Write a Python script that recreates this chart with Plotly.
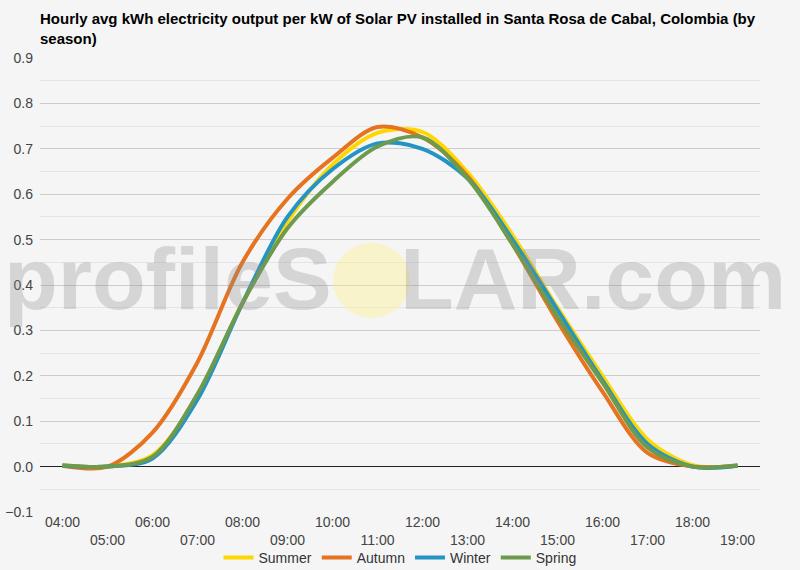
import plotly.graph_objects as go

hours = ["04:00", "05:00", "06:00", "07:00", "08:00", "09:00", "10:00", "11:00",
         "12:00", "13:00", "14:00", "15:00", "16:00", "17:00", "18:00", "19:00"]

summer = [0.003, 0.0, 0.025, 0.155, 0.36, 0.54, 0.665, 0.735, 0.737, 0.648, 0.51, 0.35, 0.2, 0.06, 0.003, 0.002]
autumn = [0.002, 0.0, 0.075, 0.23, 0.45, 0.59, 0.68, 0.748, 0.725, 0.64, 0.49, 0.32, 0.165, 0.03, 0.0, 0.002]
winter = [0.002, 0.0, 0.018, 0.148, 0.36, 0.55, 0.655, 0.712, 0.7, 0.635, 0.5, 0.345, 0.19, 0.05, 0.0, 0.002]
spring = [0.003, 0.0, 0.022, 0.16, 0.36, 0.525, 0.627, 0.705, 0.725, 0.635, 0.49, 0.33, 0.185, 0.042, 0.0, 0.003]

series = [
    ("Summer", summer, "#FFD700"),
    ("Autumn", autumn, "#E5731F"),
    ("Winter", winter, "#2394C4"),
    ("Spring", spring, "#6E9A4E"),
]

title_text = ("<b>Hourly avg kWh electricity output per kW of Solar PV installed in "
              "Santa Rosa de Cabal, Colombia (by<br>season)</b>")

fig = go.Figure()
for name, vals, color in series:
    fig.add_trace(go.Scatter(
        x=hours, y=vals, name=name, mode="lines",
        line=dict(color=color, width=4, shape="spline", smoothing=0.9),
    ))

tick_text = [h if i % 2 == 0 else "<br>" + h for i, h in enumerate(hours)]

fig.update_layout(
    width=800, height=570,
    margin=dict(l=40, r=40, t=58, b=58, autoexpand=False),
    paper_bgcolor="#f5f5f5", plot_bgcolor="#f5f5f5",
    font=dict(family="Liberation Sans, Arial, sans-serif", size=14, color="#444444"),
    title=dict(text=title_text, x=40 / 800, xanchor="left", xref="container",
               y=1 - 24 / 570, yanchor="top",
               font=dict(size=15, color="#000000", family="Liberation Sans, Arial, sans-serif")),
    xaxis=dict(type="category", range=[-0.5, 15.5], tickvals=hours, ticktext=tick_text,
               showgrid=False, zeroline=False, showline=False, ticks="", automargin=False),
    yaxis=dict(range=[-0.1, 0.9], dtick=0.1, tick0=0, tickformat=".1f", automargin=False,
               ticklabelstandoff=6,
               gridcolor="#cccccc", gridwidth=1,
               zeroline=True, zerolinecolor="#222222", zerolinewidth=1,
               minor=dict(dtick=0.05, tick0=0, showgrid=True, gridcolor="#e4e4e4", gridwidth=1)),
    legend=dict(orientation="h", x=0.5, xanchor="center", xref="container",
                y=1 - 558 / 570, yanchor="middle", yref="container",
                font=dict(size=14, color="#333333"), bgcolor="rgba(0,0,0,0)"),
    showlegend=True,
)

# watermark
fig.add_annotation(
    text="<b>profileS<span style='color:rgba(0,0,0,0)'>O</span>LAR.com</b>",
    xref="paper", yref="paper", x=0.493, y=0.515, xanchor="center", yanchor="middle",
    showarrow=False,
    font=dict(size=88, color="rgba(140,140,140,0.3)", family="Liberation Sans, Arial, sans-serif"),
)
fig.add_shape(type="circle", xref="paper", yref="paper",
              x0=0.407, x1=0.514, y0=0.427, y1=0.593,
              fillcolor="rgba(255,240,140,0.4)", line=dict(width=0), layer="above")

fig.write_html("out.html")
